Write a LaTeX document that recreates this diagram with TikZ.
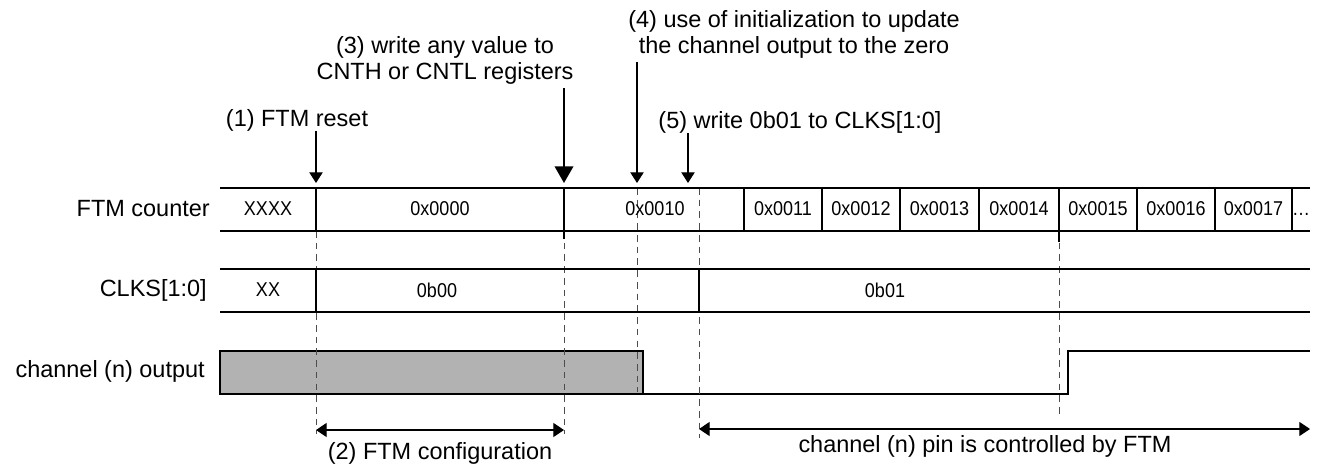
\documentclass[tikz,border=0pt]{standalone}
\usepackage{fontspec}
\setmainfont{Liberation Sans}
\newfontfamily\cellfont[FakeStretch=0.9]{Liberation Sans}
\usepackage{tikz}
\usetikzlibrary{arrows.meta,positioning}
\tikzset{
  td_lbl/.style={font=\fontsize{17.6}{19.5}\selectfont,
    inner sep=0pt,align=center},
  td_sig/.style={font=\fontsize{17.6}{19.5}\selectfont,
    inner sep=0pt,anchor=east},
  td_cell/.style={font=\cellfont\fontsize{15}{18}\selectfont,
    inner sep=0pt},
  td_bus/.style={line width=1.1pt},
  td_edge/.style={line width=0.9pt},
  td_grid/.style={draw=black!70,line width=0.65pt,
    dash pattern=on 5pt off 3.8pt},
  arr/.style={-{Triangle[width=10pt,length=8pt]},line width=0.9pt},
  arr_big/.style={-{Triangle[width=14pt,length=12.5pt]},line width=1.1pt},
  td_span/.style={{Triangle[width=10.5pt,length=8pt]}-{Triangle[width=10.5pt,length=8pt]},
    line width=0.9pt},
}

\begin{document}
\begin{tikzpicture}[x=0.75pt,y=-0.75pt]
  \useasboundingbox (0,0) rectangle (1320,467);
  % signal names
  \node (n_cnt)  [td_sig] at (210,209) {FTM counter};
  \node (n_clks) [td_sig] at (207,290) {CLKS[1:0]};
  \node (n_out)  [td_sig] at (205,371) {channel (n) output};

  % marks where the events hit the counter row
  \coordinate (m_reset) at (316,183);
  \coordinate (m_cnt)   at (564,183);
  \coordinate (m_init)  at (637,183);
  \coordinate (m_clks)  at (688,183);

  % channel output
  \draw[td_edge,fill=black!30] (220,351) rectangle (643,394);
  \draw[td_edge] (643,394) -- (1068,394) -- (1068,351) -- (1310,351);

  % dashed guides
  \draw[td_grid] (316,231) -- (316,434);
  \draw[td_grid] (564,231) -- (564,434);
  \draw[td_grid] (637,188) -- (637,392);
  \draw[td_grid] (699,188) -- (699,438);
  \draw[td_grid] (1059,231) -- (1059,416);

  % FTM counter row
  \draw[td_bus] (220,188) -- (1310,188) (220,231) -- (1310,231);
  \foreach \x in {316,564,744,822,900,979,1059,1137,1215,1292}
    \draw[td_edge] (\x,188) -- (\x,231);
  \draw[td_edge] (564,231) -- (564,239) (1059,231) -- (1059,242);
  \node (c_xxxx) [td_cell] at (268,209) {XXXX};
  \node (c_0000) [td_cell] at (440,209) {0x0000};
  \node (c_0010) [td_cell] at (655,209) {0x0010};
  \foreach \v/\x in {11/783,12/861,13/939.5,14/1019,15/1098,16/1176,17/1253.5}
    \node (c_00\v) [td_cell] at (\x,209) {0x00\v};
  \node (c_more) [td_cell,anchor=base] at (1301,215) {\dots};

  % CLKS row
  \draw[td_bus] (220,269) -- (1310,269) (220,312) -- (1310,312);
  \draw[td_edge] (316,269) -- (316,312) (699,269) -- (699,312);
  \node (k_xx) [td_cell] at (268,290) {XX};
  \node (k_00) [td_cell] at (437,290) {0b00};
  \node (k_01) [td_cell] at (885,290) {0b01};

  % events
  \node (a_reset) [td_lbl] at (297,120) {(1) FTM reset};
  \node (a_cnt)   [td_lbl] at (445,60) {(3) write any value to\\CNTH or CNTL registers};
  \node (a_init)  [td_lbl] at (794,34) {(4) use of initialization to update\\the channel output to the zero};
  \node (a_clks)  [td_lbl] at (800,122) {(5) write 0b01 to CLKS[1:0]};
  \draw[arr] (a_reset.south -| m_reset) -- (m_reset);
  \draw[arr_big,shorten <=3pt] (a_cnt.south -| m_cnt) -- (m_cnt);
  \draw[arr,shorten <=3pt] (a_init.south -| m_init) -- (m_init);
  \draw[arr] (a_clks.south -| m_clks) -- (m_clks);

  % phases
  \coordinate (p_cfg_l) at (316,430);
  \coordinate (p_cfg_r) at (564,430);
  \coordinate (p_ftm_l) at (699,429);
  \coordinate (p_ftm_r) at (1310,429);
  \draw[td_span] (p_cfg_l) -- (p_cfg_r);
  \draw[td_span] (p_ftm_l) -- (p_ftm_r);
  \node (b_cfg) [td_lbl] at (440,453) {(2) FTM configuration};
  \node (b_ftm) [td_lbl] at (985,446) {channel (n) pin is controlled by FTM};
\end{tikzpicture}
\end{document}
